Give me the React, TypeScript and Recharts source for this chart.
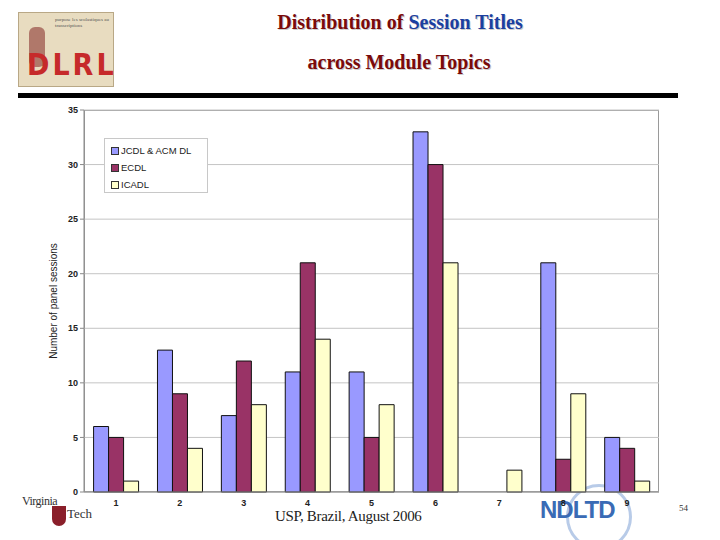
import React from "react"
import { Bar, BarChart, CartesianGrid, Legend, XAxis, YAxis } from "recharts"

// module topics 1..9
const topics = ["1", "2", "3", "4", "5", "6", "7", "8", "9"]
const jcdl = [6, 13, 7, 11, 11, 33, 0, 21, 5]
const ecdl = [5, 9, 12, 21, 5, 30, 0, 3, 4]
const icadl = [1, 4, 8, 14, 8, 21, 2, 9, 1]
const seriesNames = ["JCDL & ACM DL", "ECDL", "ICADL"]
const yTicks = [0, 5, 10, 15, 20, 25, 30, 35]

const data = topics.map((t, i) => ({ topic: t, jcdl: jcdl[i], ecdl: ecdl[i], icadl: icadl[i] }))

const sans = "'Liberation Sans', Arial, sans-serif"
const serif = "'Liberation Serif', 'Times New Roman', serif"

function LegendBox(props: any) {
  const items = [...(props.payload || [])].sort(
    (a: any, b: any) => seriesNames.indexOf(a.value) - seriesNames.indexOf(b.value)
  )
  return (
    <div
      style={{
        background: "#fff",
        border: "1px solid #c8c8c8",
        width: 104,
        height: 55,
        boxSizing: "border-box",
        padding: "3px 0 0 6px",
        fontFamily: sans,
        fontSize: 9.5,
        color: "#222",
      }}
    >
      {items.map((it: any) => (
        <div key={it.value} style={{ display: "flex", alignItems: "center", height: 17 }}>
          <span
            style={{
              width: 6,
              height: 6,
              background: it.color,
              border: "1px solid #333",
              marginRight: 2,
              display: "inline-block",
            }}
          />
          {it.value}
        </div>
      ))}
    </div>
  )
}

export default function App() {
  return (
    <div style={{ position: "absolute", left: 0, top: 0, width: 720, height: 540, background: "#fff", overflow: "hidden" }}>
      {/* DLRL logo */}
      <div
        style={{
          position: "absolute",
          left: 18,
          top: 12,
          width: 96,
          height: 75,
          background: "#e8dcc0",
          border: "1px solid #b9a886",
          boxSizing: "border-box",
        }}
      >
        <div style={{ position: "absolute", left: 36, top: 4, width: 56, fontFamily: serif, fontSize: 5, lineHeight: "6px", color: "#555" }}>
          purpose les scolastiques au transcriptions
        </div>
        <div style={{ position: "absolute", left: 10, top: 14, width: 16, height: 40, background: "#b0786a", borderRadius: 6 }} />
        <div
          style={{
            position: "absolute",
            left: 8,
            top: 36,
            fontFamily: "'Liberation Sans Narrow', 'DejaVu Sans Condensed', sans-serif",
            fontWeight: "bold",
            fontSize: 30,
            color: "#c62a2a",
            letterSpacing: 3,
            lineHeight: "32px",
          }}
        >
          DLRL
        </div>
      </div>

      {/* title */}
      <div
        style={{
          position: "absolute",
          left: 0,
          width: 800,
          top: 11,
          textAlign: "center",
          fontFamily: serif,
          fontWeight: "bold",
          fontSize: 20,
          color: "#7a0a0a",
          textShadow: "1px 1px 0 #ccc",
        }}
      >
        Distribution of <span style={{ color: "#1b3fa0" }}>Session Titles</span>
      </div>
      <div
        style={{
          position: "absolute",
          left: 0,
          width: 798,
          top: 51,
          textAlign: "center",
          fontFamily: serif,
          fontWeight: "bold",
          fontSize: 20,
          color: "#7a0a0a",
          textShadow: "1px 1px 0 #ccc",
        }}
      >
        across Module Topics
      </div>
      <div style={{ position: "absolute", left: 18, top: 93, width: 660, height: 5, background: "#000" }} />

      {/* NDLTD logo sits behind the axis labels */}
      <div
        style={{
          position: "absolute",
          left: 566,
          top: 484,
          width: 66,
          height: 66,
          borderRadius: "50%",
          border: "3px solid #b8cbe8",
          boxSizing: "border-box",
        }}
      />
      <div
        style={{
          position: "absolute",
          left: 540,
          top: 496,
          fontFamily: sans,
          fontWeight: "bold",
          fontSize: 24,
          color: "#3a6bb5",
          letterSpacing: -1,
        }}
      >
        NDLTD
      </div>

      {/* plot frame */}
      <div style={{ position: "absolute", left: 84, top: 110, width: 575, height: 382, border: "1px solid #9a9a9a", boxSizing: "border-box" }} />

      <div style={{ position: "absolute", left: 0, top: 0 }}>
        <BarChart
          width={720}
          height={540}
          data={data}
          margin={{ top: 110, right: 61, bottom: 28, left: 44 }}
          barCategoryGap="15%"
          barGap={0}
        >
          <CartesianGrid vertical={false} stroke="#c4c4c4" />
          <XAxis
            dataKey="topic"
            tick={{ fontFamily: sans, fontSize: 9, fontWeight: "bold", fill: "#222" }}
            tickLine={false}
            tickMargin={2}
            axisLine={{ stroke: "#888" }}
            height={20}
          />
          <YAxis
            domain={[0, 35]}
            ticks={yTicks}
            width={40}
            tick={{ fontFamily: sans, fontSize: 9, fontWeight: "bold", fill: "#222" }}
            tickLine={{ stroke: "#888" }}
            tickSize={4}
            axisLine={{ stroke: "#888" }}
            label={{
              value: "Number of panel sessions",
              angle: -90,
              position: "insideLeft",
              offset: 9,
              style: { textAnchor: "middle", fontFamily: sans, fontSize: 10, fill: "#222" },
            }}
          />
          <Legend
            layout="vertical"
            align="center"
            verticalAlign="middle"
            wrapperStyle={{ left: 104, top: 138, width: 104 }}
            content={<LegendBox />}
          />
          <Bar dataKey="jcdl" name={seriesNames[0]} fill="#9999ff" stroke="#111" strokeWidth={1} isAnimationActive={false} />
          <Bar dataKey="ecdl" name={seriesNames[1]} fill="#993366" stroke="#111" strokeWidth={1} isAnimationActive={false} />
          <Bar dataKey="icadl" name={seriesNames[2]} fill="#ffffcc" stroke="#111" strokeWidth={1} isAnimationActive={false} />
        </BarChart>
      </div>

      {/* footer */}
      <div style={{ position: "absolute", left: 22, top: 494, fontFamily: serif, fontSize: 12, color: "#333", letterSpacing: -0.5 }}>
        Virginia
      </div>
      <div style={{ position: "absolute", left: 52, top: 506, width: 14, height: 20, background: "#8a1f2a", borderRadius: "0 0 7px 7px" }} />
      <div style={{ position: "absolute", left: 67, top: 506, fontFamily: serif, fontSize: 13, color: "#333" }}>Tech</div>
      <div style={{ position: "absolute", left: 275, top: 508, fontFamily: serif, fontSize: 15, color: "#222", letterSpacing: -0.3 }}>
        USP, Brazil, August 2006
      </div>
      <div style={{ position: "absolute", left: 679, top: 503, fontFamily: serif, fontSize: 9, color: "#333" }}>54</div>
    </div>
  )
}
